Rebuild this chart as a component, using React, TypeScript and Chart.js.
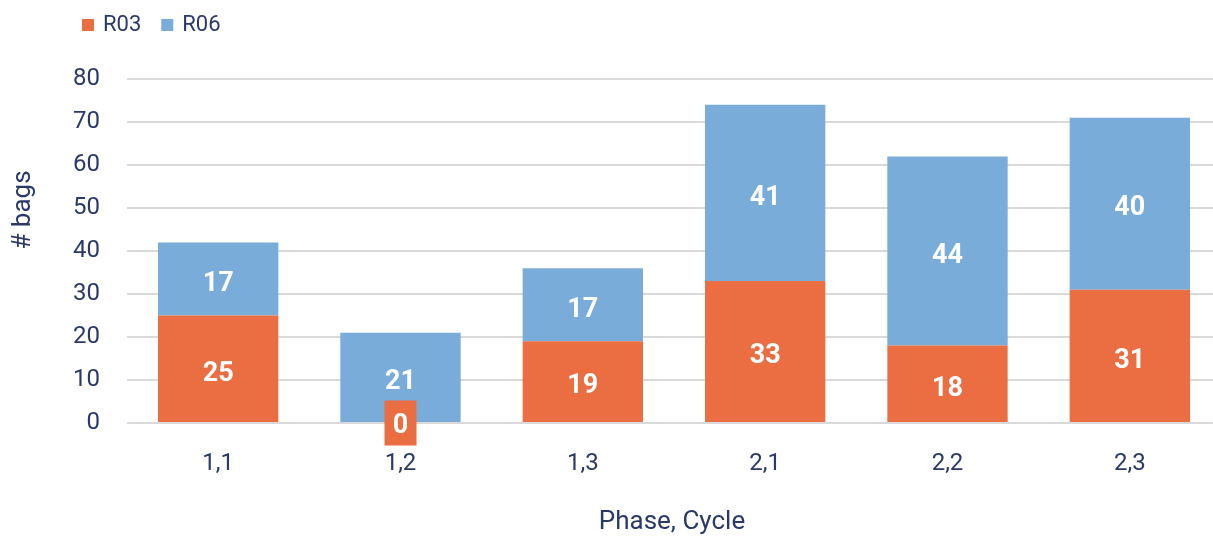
import React, { useEffect, useRef } from "react";
import { Chart, registerables } from "chart.js";

Chart.register(...registerables);

const categories = ["1,1", "1,2", "1,3", "2,1", "2,2", "2,3"];
const r03 = [25, 0, 19, 33, 18, 31];
const r06 = [17, 21, 17, 41, 44, 40];
const yTicks = [0, 10, 20, 30, 40, 50, 60, 70, 80];
const seriesNames = ["R03", "R06"];
const xTitle = "Phase, Cycle";
const yTitle = "# bags";

const ORANGE = "#EA6E42";
const BLUE = "#7AACDA";
const TEXT = "#2A3968";
const FONT = "Roboto";

const labelsPlugin = {
  id: "customLabels",
  afterDatasetsDraw(chart: any) {
    const ctx = chart.ctx;
    ctx.save();
    ctx.font = `bold 27px ${FONT}`;
    ctx.textAlign = "center";
    ctx.textBaseline = "middle";
    chart.data.datasets.forEach((ds: any, di: number) => {
      const meta = chart.getDatasetMeta(di);
      meta.data.forEach((bar: any, i: number) => {
        const v = ds.data[i];
        const p = bar.getProps(["x", "y", "base"], true);
        if (v === 0) {
          ctx.fillStyle = ds.backgroundColor;
          ctx.fillRect(p.x - 16, p.base - 22.5, 32, 45);
          ctx.fillStyle = "#ffffff";
          ctx.fillText(String(v), p.x, p.base + 3);
        } else {
          ctx.fillStyle = "#ffffff";
          ctx.fillText(String(v), p.x, (p.y + p.base) / 2 + 5);
        }
      });
    });
    ctx.restore();
  },
  afterDraw(chart: any) {
    const ctx = chart.ctx;
    const ca = chart.chartArea;
    ctx.save();
    ctx.fillStyle = TEXT;
    ctx.font = `26px ${FONT}`;
    ctx.textBaseline = "middle";
    ctx.textAlign = "center";
    ctx.fillText(xTitle, (ca.left + ca.right) / 2 - 2, 522);
    ctx.save();
    ctx.translate(23, 210);
    ctx.rotate(-Math.PI / 2);
    ctx.fillText(yTitle, 0, 0);
    ctx.restore();
    // legend
    ctx.textAlign = "left";
    ctx.font = `22px ${FONT}`;
    const colors = [ORANGE, BLUE];
    let x = 82;
    seriesNames.forEach((n, i) => {
      ctx.fillStyle = colors[i];
      ctx.fillRect(x, 19, 12, 12);
      ctx.fillStyle = TEXT;
      ctx.fillText(n, x + 21, 25);
      x += 21 + ctx.measureText(n).width + 20;
    });
    ctx.restore();
  },
};

export default function App() {
  const ref = useRef<HTMLCanvasElement | null>(null);
  useEffect(() => {
    if (!ref.current) return;
    const chart = new Chart(ref.current, {
      type: "bar",
      data: {
        labels: categories,
        datasets: [
          { label: seriesNames[0], data: r03, backgroundColor: ORANGE, borderWidth: 0 },
          { label: seriesNames[1], data: r06, backgroundColor: BLUE, borderWidth: 0 },
        ],
      },
      options: {
        animation: false,
        responsive: false,
        maintainAspectRatio: false,
        layout: { padding: { top: 79, right: 9, left: 0, bottom: 0 } },
        plugins: {
          legend: { display: false },
          tooltip: { enabled: false },
        },
        datasets: { bar: { categoryPercentage: 1, barPercentage: 0.66 } },
        scales: {
          x: {
            stacked: true,
            grid: { display: false, drawTicks: false },
            border: { display: false },
            ticks: { color: TEXT, font: { family: FONT, size: 24 }, padding: 27 },
            afterFit(s: any) {
              s.height = 114;
            },
          },
          y: {
            stacked: true,
            min: 0,
            max: 80,
            afterBuildTicks(s: any) {
              s.ticks = yTicks.map((v) => ({ value: v }));
            },
            grid: { color: "#D9D9D9", lineWidth: 2, drawTicks: false },
            border: { display: false },
            ticks: { color: TEXT, font: { family: FONT, size: 24 }, padding: 27 },
            afterFit(s: any) {
              s.width = 127;
            },
          },
        },
      },
      plugins: [labelsPlugin],
    });
    return () => chart.destroy();
  }, []);
  return (
    <div
      style={{
        position: "absolute",
        left: 0,
        top: 0,
        width: 1213,
        height: 537,
        overflow: "hidden",
        background: "#fff",
      }}
    >
      <canvas ref={ref} width={1230} height={537} style={{ display: "block" }} />
    </div>
  );
}
